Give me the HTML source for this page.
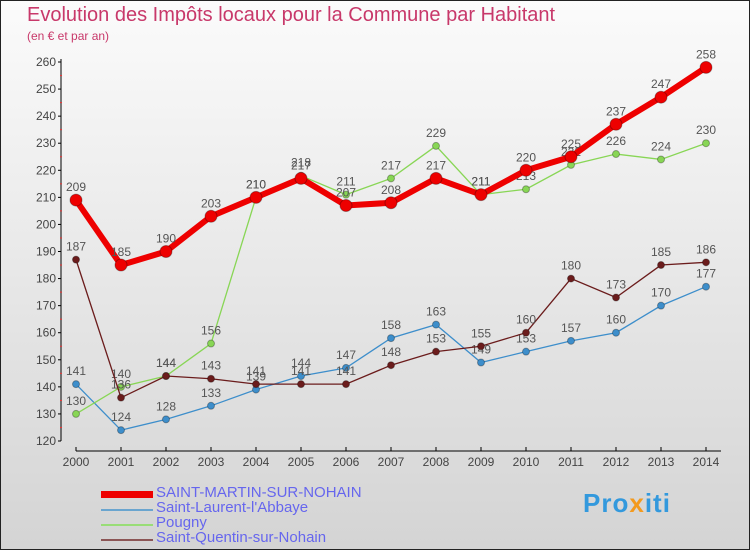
<!DOCTYPE html>
<html><head><meta charset="utf-8"><style>
body{margin:0}
#c{width:750px;height:550px;position:relative;box-sizing:border-box;border:1px solid #222;background:linear-gradient(#fbfbfb,#d4d4d4);font-family:"Liberation Sans",sans-serif;overflow:hidden}
.t{position:absolute;left:26px;top:3px;font-size:20px;color:#c8386a}
.s{position:absolute;left:26px;top:28px;font-size:12px;color:#c8386a}
.lg{position:absolute;left:100px;font-size:15px;color:#6666ee}
.lg i{position:absolute;left:0;width:52px}
.lg span{position:absolute;left:55px;top:-10px;white-space:nowrap}
</style></head><body>
<div id="c">
<div class="t">Evolution des Impôts locaux pour la Commune par Habitant</div>
<div class="s">(en € et par an)</div>
<svg id="g" width="750" height="550" style="position:absolute;left:0;top:0"></svg>
<div class="lg" style="top:493px"><i style="height:7px;background:#e00;top:-3px"></i><span>SAINT-MARTIN-SUR-NOHAIN</span></div>
<div class="lg" style="top:508px"><i style="height:2px;background:#6aa5cf"></i><span>Saint-Laurent-l'Abbaye</span></div>
<div class="lg" style="top:523px"><i style="height:2px;background:#99dd77"></i><span>Pougny</span></div>
<div class="lg" style="top:538px"><i style="height:2px;background:#8b5555"></i><span>Saint-Quentin-sur-Nohain</span></div>
<div style="position:absolute;left:582px;top:487px;font-size:26px;font-weight:bold;color:#3399dd;letter-spacing:1px">Pro<span style="color:#f39a1e">x</span>iti</div>
</div>
<script>
const years=[2000,2001,2002,2003,2004,2005,2006,2007,2008,2009,2010,2011,2012,2013,2014];
const yTicks=[120,130,140,150,160,170,180,190,200,210,220,230,240,250,260];
const stMartin=[209,185,190,203,210,217,207,208,217,211,220,225,237,247,258];
const stLaurent=[141,124,128,133,139,144,147,158,163,149,153,157,160,170,177];
const pougny=[130,140,144,156,210,218,211,217,229,211,213,222,226,224,230];
const stQuentin=[187,136,144,143,141,141,141,148,153,155,160,180,173,185,186];
const g=document.getElementById('g'),NS='http://www.w3.org/2000/svg';
const X=i=>75+i*45, Y=v=>440-(v-120)*(379/140);
function mk(t,a,p){const e=document.createElementNS(NS,t);for(const k in a)e.setAttribute(k,a[k]);(p||g).appendChild(e);return e;}
let e=mk('line',{x1:60,y1:58,x2:60,y2:440,stroke:'#000'});


e=mk('line',{x1:75,y1:450,x2:720,y2:450,stroke:'#000'});


yTicks.forEach(v=>{mk('line',{x1:57,y1:Y(v),x2:60,y2:Y(v),stroke:'#000'});
 const t=mk('text',{x:55,y:Y(v)+4,'text-anchor':'end','font-size':12,fill:'#444'});t.textContent=v;
 
 
 if(v<260)mk('line',{x1:59,y1:Y(v+5),x2:61,y2:Y(v+5),stroke:'#e33'});});
years.forEach((y,i)=>{mk('line',{x1:X(i),y1:446,x2:X(i),y2:450,stroke:'#000'});
 const t=mk('text',{x:X(i),y:465,'text-anchor':'middle','font-size':12,fill:'#444'});t.textContent=y;
 
 });
function series(d,col,w,r,name){
 const p=mk('polyline',{points:d.map((v,i)=>X(i)+','+Y(v)).join(' '),fill:'none',stroke:col,'stroke-width':w});
 
 
 d.forEach((v,i)=>{const c=mk('circle',{cx:X(i),cy:Y(v),r:r,fill:col,stroke:'rgba(0,0,0,0.3)'});
  
  
  const t=mk('text',{x:X(i),y:Y(v)-9,'text-anchor':'middle','font-size':12,fill:'#555'});t.textContent=v;
  
  });
}
series(stLaurent,'#3d8ecb',1.3,3.5,'saint-laurent');
series(pougny,'#88d655',1.3,3.5,'pougny');
series(stQuentin,'#6b1c1c',1.3,3.5,'saint-quentin');
series(stMartin,'#ee0000',6,6,'saint-martin');
</script>
</body></html>
